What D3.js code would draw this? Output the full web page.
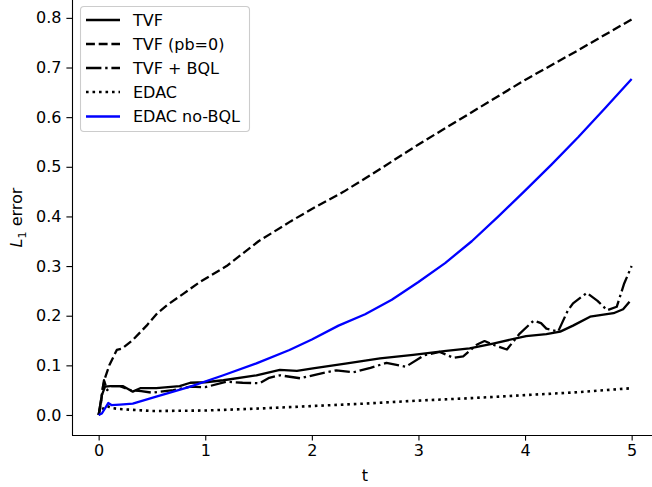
<!DOCTYPE html>
<html><head><meta charset="utf-8">
<script src="https://cdn.jsdelivr.net/npm/d3@7"></script>
<style>body{margin:0;background:#fff}svg{display:block}text{font-family:"DejaVu Sans",sans-serif}</style>
</head><body><svg id="c" width="652" height="487"></svg>
<script>
// Data
const xTicks = [0, 1, 2, 3, 4, 5];
const yTicks = [0.0, 0.1, 0.2, 0.3, 0.4, 0.5, 0.6, 0.7, 0.8];
const seriesNames = ["TVF", "TVF (pb=0)", "TVF + BQL", "EDAC", "EDAC no-BQL"];

const tvfT = [0,0.03,0.06,0.11,0.23,0.28,0.32,0.39,0.54,0.76,0.86,1.0,1.17,1.48,1.7,1.86,2.01,2.33,2.64,2.95,3.26,3.48,3.7,4.01,4.2,4.33,4.45,4.61,4.83,4.92,4.98];
const tvfV = [0,0.04,0.057,0.058,0.058,0.052,0.047,0.054,0.054,0.058,0.065,0.066,0.070,0.080,0.091,0.089,0.094,0.104,0.114,0.121,0.129,0.134,0.144,0.159,0.163,0.168,0.180,0.198,0.205,0.213,0.228];

const pb0T = [0,0.02,0.04,0.06,0.1,0.17,0.22,0.32,0.45,0.55,0.64,0.8,0.95,1.2,1.5,1.8,2.0,2.3,2.6,3.0,3.5,4.0,4.5,5.0];
const pb0V = [0,0.02,0.057,0.075,0.10,0.131,0.134,0.151,0.18,0.205,0.221,0.245,0.268,0.30,0.35,0.39,0.415,0.45,0.49,0.545,0.61,0.675,0.735,0.797];

const bqlT = [0,0.03,0.05,0.08,0.12,0.2,0.3,0.4,0.5,0.7,0.86,1.0,1.2,1.35,1.51,1.6,1.7,1.89,2.05,2.23,2.39,2.55,2.7,2.88,3.05,3.2,3.33,3.42,3.55,3.62,3.72,3.83,3.95,4.08,4.15,4.2,4.31,4.4,4.45,4.58,4.68,4.77,4.86,4.93,5.0];
const bqlV = [0,0.04,0.07,0.05,0.058,0.058,0.05,0.048,0.045,0.05,0.057,0.056,0.067,0.065,0.064,0.075,0.08,0.074,0.082,0.09,0.086,0.095,0.105,0.097,0.12,0.127,0.115,0.118,0.142,0.149,0.14,0.132,0.164,0.19,0.185,0.174,0.168,0.21,0.225,0.246,0.23,0.211,0.218,0.265,0.30];

const edacT = [0,0.05,0.08,0.12,0.2,0.35,0.5,1.0,1.5,2.0,2.5,3.0,3.5,4.0,4.5,5.0];
const edacV = [0,0.015,0.018,0.014,0.012,0.01,0.008,0.009,0.013,0.018,0.023,0.029,0.034,0.040,0.046,0.054];

const noBqlT = [0,0.03,0.09,0.12,0.2,0.32,0.54,0.86,1.17,1.48,1.79,2.0,2.25,2.5,2.75,3.0,3.25,3.5,3.75,4.0,4.25,4.5,4.75,5.0];
const noBqlV = [0,0.003,0.024,0.02,0.021,0.023,0.037,0.057,0.080,0.104,0.131,0.152,0.18,0.203,0.232,0.268,0.306,0.35,0.40,0.452,0.505,0.56,0.618,0.677];

const svg = d3.select("#c");
const x = d3.scaleLinear().domain([-0.25, 5.25]).range([72, 658.3]);
const y = d3.scaleLinear().domain([-0.0403, 0.836]).range([435, 0]);

const LW = 2.3;
const styles = [
  {color:"#000", dash:null},
  {color:"#000", dash:"8.9,3.8"},
  {color:"#000", dash:"15.4,3.8,2.4,3.8"},
  {color:"#000", dash:"2.6,3.9"},
  {color:"#0000ff", dash:null}
];
const data = [[tvfT,tvfV],[pb0T,pb0V],[bqlT,bqlV],[edacT,edacV],[noBqlT,noBqlV]];

const line = d3.line().x(d=>x(d[0])).y(d=>y(d[1]));
data.forEach((s,i)=>{
  const pts = s[0].map((t,j)=>[t, s[1][j]]);
  svg.append("path").attr("d", line(pts)).attr("fill","none")
    .attr("stroke", styles[i].color).attr("stroke-width", i===3 ? 2.6 : LW)
    .attr("stroke-dasharray", styles[i].dash).attr("stroke-linejoin","round");
});

// Axes
const xAxis = svg.append("g").attr("transform","translate(0,435)")
  .call(d3.axisBottom(x).tickValues(xTicks).tickFormat(d3.format("d")).tickSizeOuter(0).tickSize(5.6).tickPadding(4));
const yAxis = svg.append("g").attr("transform","translate(72,0)")
  .call(d3.axisLeft(y).tickValues(yTicks).tickFormat(d3.format(".1f")).tickSizeOuter(0).tickSize(5.6).tickPadding(5));
[xAxis,yAxis].forEach(g=>{
  g.select(".domain").attr("stroke","#000").attr("stroke-width",1.1);
  g.selectAll(".tick line").attr("stroke","#000").attr("stroke-width",1.1);
  g.selectAll(".tick text").attr("font-size",16).attr("fill","#000").attr("font-family","DejaVu Sans");
});
xAxis.select(".domain").attr("d","M72,0.5H658");
yAxis.select(".domain").attr("d","M0.5,435V0");

// Axis labels
svg.append("text").attr("x",365).attr("y",481).attr("text-anchor","middle").attr("font-size",16).text("t");
const yl = svg.append("text").attr("transform","translate(22,217.5) rotate(-90)").attr("text-anchor","middle").attr("font-size",16);
yl.append("tspan").attr("font-style","italic").text("L");
yl.append("tspan").attr("font-size",11).attr("dy",4).text("1");
yl.append("tspan").attr("dy",-4).text(" error");

// Legend
const lg = svg.append("g");
lg.append("rect").attr("x",80.5).attr("y",6.5).attr("width",169).attr("height",125).attr("rx",3.5)
  .attr("fill","#fff").attr("fill-opacity",0.8).attr("stroke","#cccccc").attr("stroke-width",1.1);
const rowY = [20,44,68,92,116.5];
seriesNames.forEach((n,i)=>{
  lg.append("line").attr("x1",86).attr("x2",120).attr("y1",rowY[i]).attr("y2",rowY[i])
    .attr("stroke",styles[i].color).attr("stroke-width",i===3 ? 2.6 : LW).attr("stroke-dasharray",styles[i].dash);
  lg.append("text").attr("x",133).attr("y",rowY[i]+5.8).attr("font-size",16).attr("fill","#000").text(n);
});
</script></body></html>
